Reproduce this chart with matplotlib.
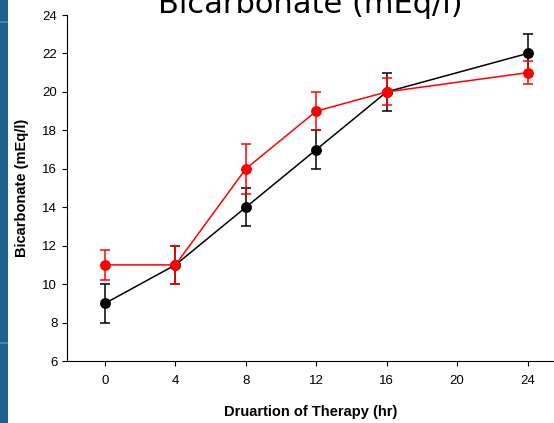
import matplotlib
matplotlib.use('Agg')
import matplotlib.pyplot as plt
from matplotlib.patches import Rectangle

hours = [0, 4, 8, 12, 16, 24]
black_vals = [9, 11, 14, 17, 20, 22]
black_err = [1.0, 1.0, 1.0, 1.0, 1.0, 1.0]
red_vals = [11, 11, 16, 19, 20, 21]
red_err = [0.8, 1.0, 1.3, 1.0, 0.7, 0.6]

x_ticks = [0, 4, 8, 12, 16, 20, 24]
y_ticks = [6, 8, 10, 12, 14, 16, 18, 20, 22, 24]

plt.rcParams['font.family'] = ['Liberation Sans', 'DejaVu Sans']

fig = plt.figure(figsize=(5.54, 4.23), dpi=100)

# slide background strip on the left
fig.patches.append(Rectangle((0, 0), 8 / 554, 1, transform=fig.transFigure,
                             facecolor='#1b6189', edgecolor='none', zorder=0))
for yy in (22, 343):
    fig.patches.append(Rectangle((0, 1 - (yy + 1) / 423), 8 / 554, 2 / 423, transform=fig.transFigure,
                                 facecolor='#3f86b0', edgecolor='none', zorder=1))

ax = fig.add_axes([67 / 554, 62 / 423, 1 - 67 / 554, (361 - 15) / 423])

ax.errorbar(hours, black_vals, yerr=black_err, color='black', lw=1.1, marker='o', ms=6.8,
            capsize=3.5, elinewidth=1.1, capthick=1.1, zorder=2)
ax.errorbar(hours, red_vals, yerr=red_err, color='#ff0000', lw=1.1, marker='o', ms=6.8,
            capsize=3.5, elinewidth=1.1, capthick=1.1, zorder=3)

ax.set_xlim(-2.16, 25.5)
ax.set_ylim(6, 24)
ax.set_xticks(x_ticks)
ax.set_yticks(y_ticks)
ax.tick_params(labelsize=9.5, length=3.5, width=0.8, direction='out', pad=3.5)
ax.tick_params(axis='x', pad=6.5)
for s in ('top', 'right'):
    ax.spines[s].set_visible(False)
for s in ('left', 'bottom'):
    ax.spines[s].set_linewidth(0.8)

ax.set_xlabel('Druartion of Therapy (hr)', fontsize=10.5, fontweight='bold', labelpad=13)
ax.set_ylabel('Bicarbonate (mEq/l)', fontsize=10.5, fontweight='bold', labelpad=10)

fig.text(310 / 554, 1 - 13 / 423, 'Bicarbonate (mEq/l)', ha='center', va='baseline',
         fontsize=22, family=['DejaVu Sans'])

fig.savefig('out.png', dpi=100)
